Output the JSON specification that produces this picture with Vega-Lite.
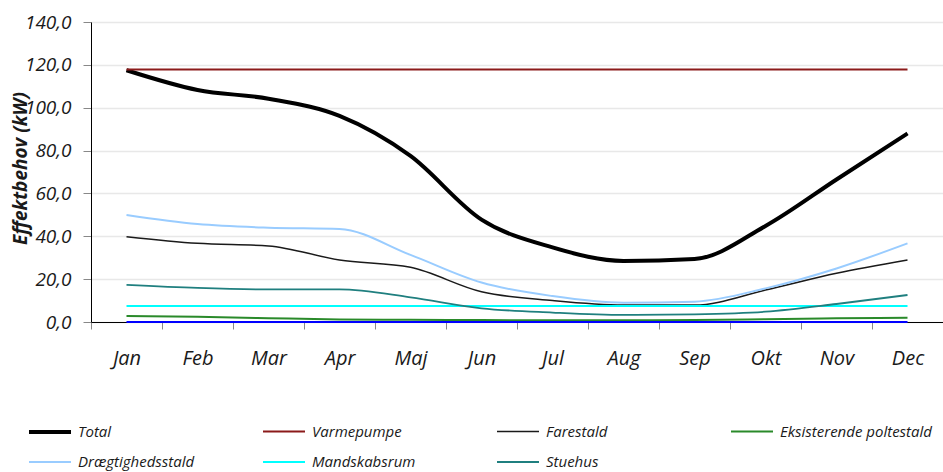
{
  "$schema": "https://vega.github.io/schema/vega-lite/v6.json",
  "width": 852,
  "height": 300,
  "autosize": "none",
  "padding": {"left": 91, "top": 22, "right": 0, "bottom": 150},
  "background": "white",
  "config": {
    "font": "Open Sans",
    "view": {"stroke": null},
    "locale": {"number": {"decimal": ",", "thousands": ".", "grouping": [3], "currency": ["", " kr."]}}
  },
  "datasets": {
    "main": [
      {"month": "Jan", "series": "Total", "kW": 117.5},
      {"month": "Feb", "series": "Total", "kW": 108.3},
      {"month": "Mar", "series": "Total", "kW": 104.2},
      {"month": "Apr", "series": "Total", "kW": 96.2},
      {"month": "Maj", "series": "Total", "kW": 77.5},
      {"month": "Jun", "series": "Total", "kW": 47.8},
      {"month": "Jul", "series": "Total", "kW": 34.8},
      {"month": "Aug", "series": "Total", "kW": 28.5},
      {"month": "Sep", "series": "Total", "kW": 29.4},
      {"month": "Okt", "series": "Total", "kW": 44.8},
      {"month": "Nov", "series": "Total", "kW": 66.5},
      {"month": "Dec", "series": "Total", "kW": 88.0},
      {"month": "Jan", "series": "Varmepumpe", "kW": 117.8},
      {"month": "Feb", "series": "Varmepumpe", "kW": 117.8},
      {"month": "Mar", "series": "Varmepumpe", "kW": 117.8},
      {"month": "Apr", "series": "Varmepumpe", "kW": 117.8},
      {"month": "Maj", "series": "Varmepumpe", "kW": 117.8},
      {"month": "Jun", "series": "Varmepumpe", "kW": 117.8},
      {"month": "Jul", "series": "Varmepumpe", "kW": 117.8},
      {"month": "Aug", "series": "Varmepumpe", "kW": 117.8},
      {"month": "Sep", "series": "Varmepumpe", "kW": 117.8},
      {"month": "Okt", "series": "Varmepumpe", "kW": 117.8},
      {"month": "Nov", "series": "Varmepumpe", "kW": 117.8},
      {"month": "Dec", "series": "Varmepumpe", "kW": 117.8},
      {"month": "Jan", "series": "Farestald", "kW": 39.8},
      {"month": "Feb", "series": "Farestald", "kW": 36.7},
      {"month": "Mar", "series": "Farestald", "kW": 35.5},
      {"month": "Apr", "series": "Farestald", "kW": 28.9},
      {"month": "Maj", "series": "Farestald", "kW": 25.5},
      {"month": "Jun", "series": "Farestald", "kW": 14.1},
      {"month": "Jul", "series": "Farestald", "kW": 10.0},
      {"month": "Aug", "series": "Farestald", "kW": 7.9},
      {"month": "Sep", "series": "Farestald", "kW": 7.9},
      {"month": "Okt", "series": "Farestald", "kW": 14.9},
      {"month": "Nov", "series": "Farestald", "kW": 22.7},
      {"month": "Dec", "series": "Farestald", "kW": 28.9},
      {"month": "Jan", "series": "Eksisterende poltestald", "kW": 2.8},
      {"month": "Feb", "series": "Eksisterende poltestald", "kW": 2.4},
      {"month": "Mar", "series": "Eksisterende poltestald", "kW": 1.8},
      {"month": "Apr", "series": "Eksisterende poltestald", "kW": 1.2},
      {"month": "Maj", "series": "Eksisterende poltestald", "kW": 1.0},
      {"month": "Jun", "series": "Eksisterende poltestald", "kW": 0.9},
      {"month": "Jul", "series": "Eksisterende poltestald", "kW": 0.8},
      {"month": "Aug", "series": "Eksisterende poltestald", "kW": 0.8},
      {"month": "Sep", "series": "Eksisterende poltestald", "kW": 0.9},
      {"month": "Okt", "series": "Eksisterende poltestald", "kW": 1.3},
      {"month": "Nov", "series": "Eksisterende poltestald", "kW": 1.7},
      {"month": "Dec", "series": "Eksisterende poltestald", "kW": 2.0},
      {"month": "Jan", "series": "Drægtighedsstald", "kW": 49.9},
      {"month": "Feb", "series": "Drægtighedsstald", "kW": 45.7},
      {"month": "Mar", "series": "Drægtighedsstald", "kW": 44.0},
      {"month": "Apr", "series": "Drægtighedsstald", "kW": 43.4},
      {"month": "Maj", "series": "Drægtighedsstald", "kW": 31.3},
      {"month": "Jun", "series": "Drægtighedsstald", "kW": 18.4},
      {"month": "Jul", "series": "Drægtighedsstald", "kW": 12.1},
      {"month": "Aug", "series": "Drægtighedsstald", "kW": 9.0},
      {"month": "Sep", "series": "Drægtighedsstald", "kW": 9.5},
      {"month": "Okt", "series": "Drægtighedsstald", "kW": 15.7},
      {"month": "Nov", "series": "Drægtighedsstald", "kW": 25.0},
      {"month": "Dec", "series": "Drægtighedsstald", "kW": 36.7},
      {"month": "Jan", "series": "Mandskabsrum", "kW": 7.5},
      {"month": "Feb", "series": "Mandskabsrum", "kW": 7.5},
      {"month": "Mar", "series": "Mandskabsrum", "kW": 7.5},
      {"month": "Apr", "series": "Mandskabsrum", "kW": 7.5},
      {"month": "Maj", "series": "Mandskabsrum", "kW": 7.5},
      {"month": "Jun", "series": "Mandskabsrum", "kW": 7.5},
      {"month": "Jul", "series": "Mandskabsrum", "kW": 7.5},
      {"month": "Aug", "series": "Mandskabsrum", "kW": 7.5},
      {"month": "Sep", "series": "Mandskabsrum", "kW": 7.5},
      {"month": "Okt", "series": "Mandskabsrum", "kW": 7.5},
      {"month": "Nov", "series": "Mandskabsrum", "kW": 7.5},
      {"month": "Dec", "series": "Mandskabsrum", "kW": 7.5},
      {"month": "Jan", "series": "Stuehus", "kW": 17.3},
      {"month": "Feb", "series": "Stuehus", "kW": 15.9},
      {"month": "Mar", "series": "Stuehus", "kW": 15.2},
      {"month": "Apr", "series": "Stuehus", "kW": 15.2},
      {"month": "Maj", "series": "Stuehus", "kW": 11.5},
      {"month": "Jun", "series": "Stuehus", "kW": 6.4},
      {"month": "Jul", "series": "Stuehus", "kW": 4.4},
      {"month": "Aug", "series": "Stuehus", "kW": 3.3},
      {"month": "Sep", "series": "Stuehus", "kW": 3.6},
      {"month": "Okt", "series": "Stuehus", "kW": 4.8},
      {"month": "Nov", "series": "Stuehus", "kW": 8.4},
      {"month": "Dec", "series": "Stuehus", "kW": 12.6}
    ],
    "zero": [
      {"month": "Jan", "kW": 0}, {"month": "Feb", "kW": 0}, {"month": "Mar", "kW": 0},
      {"month": "Apr", "kW": 0}, {"month": "Maj", "kW": 0}, {"month": "Jun", "kW": 0},
      {"month": "Jul", "kW": 0}, {"month": "Aug", "kW": 0}, {"month": "Sep", "kW": 0},
      {"month": "Okt", "kW": 0}, {"month": "Nov", "kW": 0}, {"month": "Dec", "kW": 0}
    ]
  },
  "layer": [
    {
      "data": {"name": "main"},
      "mark": {"type": "line", "interpolate": "monotone"},
      "encoding": {
        "x": {
          "field": "month", "type": "nominal",
          "sort": ["Jan","Feb","Mar","Apr","Maj","Jun","Jul","Aug","Sep","Okt","Nov","Dec"],
          "scale": {"type": "band", "paddingInner": 0, "paddingOuter": 0},
          "axis": {"title": null, "labelAngle": 0, "tickBand": "extent", "tickSize": 7, "tickColor": "#888888", "domainColor": "#000000", "labelPadding": 19, "grid": false,
            "labelFont": "Open Sans", "labelFontStyle": "italic", "labelFontSize": 20, "labelColor": "#1a1a1a"}
        },
        "y": {
          "field": "kW", "type": "quantitative",
          "scale": {"domain": [0, 140], "nice": false},
          "axis": {
            "title": "Effektbehov (kW)", "titleFont": "Open Sans", "titleFontStyle": "italic", "titleFontWeight": "bold", "titleFontSize": 19, "titleColor": "#1a1a1a",
            "titleX": -71, "titleY": 146, "titleAngle": -90, "titleBaseline": "middle", "titleAlign": "center",
            "values": [0,20,40,60,80,100,120,140],
            "format": ".1f",
            "labelFont": "Open Sans", "labelFontStyle": "italic", "labelFontSize": 19, "labelColor": "#1a1a1a",
            "tickSize": 8, "tickColor": "#888888", "labelPadding": 12, "domainColor": "#000000",
            "grid": true, "gridColor": "#e8e8e8", "gridWidth": 1.5
          }
        },
        "color": {
          "field": "series", "type": "nominal",
          "scale": {
            "domain": ["Total","Varmepumpe","Farestald","Eksisterende poltestald","Drægtighedsstald","Mandskabsrum","Stuehus"],
            "range": ["#000000","#8b1a1a","#1a1a1a","#2a8a2a","#99ccff","#00ffff","#1f7f7f"]
          },
          "legend": {
            "title": null, "orient": "none", "legendX": -64, "legendY": 387, "direction": "horizontal", "columns": 4,
            "gridAlign": "all", "columnPadding": 29, "rowPadding": -10,
            "symbolType": "stroke", "symbolSize": 1764, "labelOffset": 5,
            "labelFont": "Open Sans", "labelFontStyle": "italic", "labelFontSize": 15, "labelColor": "#1a1a1a", "labelLimit": 300
          }
        },
        "strokeWidth": {
          "field": "series", "type": "nominal",
          "scale": {
            "type": "ordinal",
            "domain": ["Total","Varmepumpe","Farestald","Eksisterende poltestald","Drægtighedsstald","Mandskabsrum","Stuehus"],
            "range": [4, 2, 1.5, 2, 2, 2, 1.8]
          },
          "legend": {
            "title": null, "orient": "none", "legendX": -64, "legendY": 387, "direction": "horizontal", "columns": 4,
            "gridAlign": "all", "columnPadding": 29, "rowPadding": -10,
            "symbolType": "stroke", "symbolSize": 1764, "labelOffset": 5,
            "labelFont": "Open Sans", "labelFontStyle": "italic", "labelFontSize": 15, "labelColor": "#1a1a1a", "labelLimit": 300
          }
        }
      }
    },
    {
      "data": {"name": "zero"},
      "mark": {"type": "line", "color": "#0000ff", "strokeWidth": 2},
      "encoding": {
        "x": {"field": "month", "type": "nominal", "sort": ["Jan","Feb","Mar","Apr","Maj","Jun","Jul","Aug","Sep","Okt","Nov","Dec"]},
        "y": {"field": "kW", "type": "quantitative"}
      }
    }
  ]
}
